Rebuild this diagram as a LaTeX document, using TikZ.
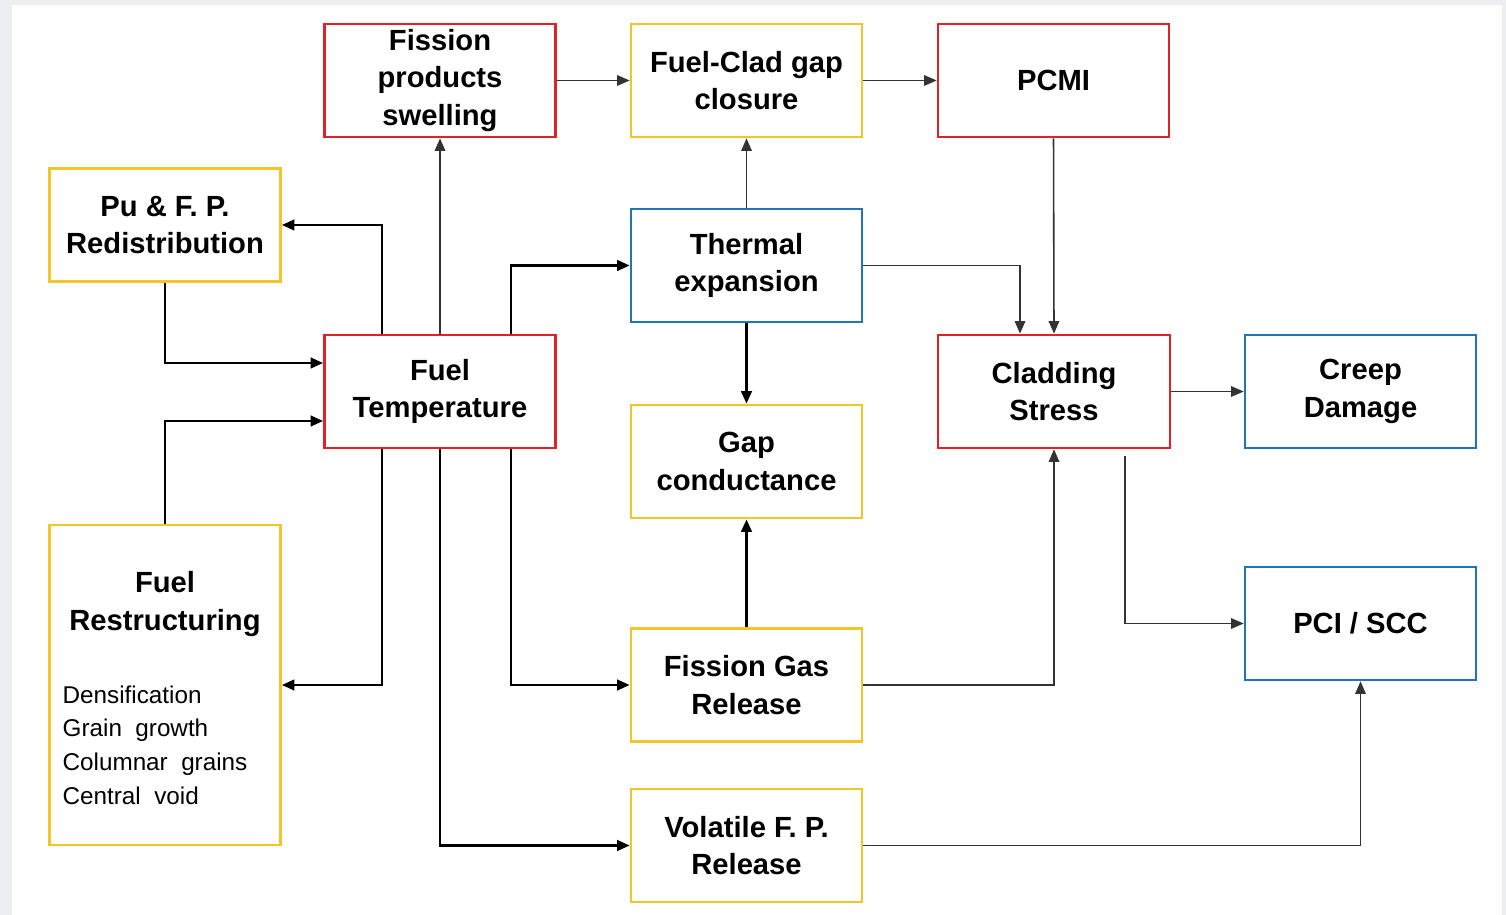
\documentclass[tikz,border=0pt]{standalone}
\usepackage{fontspec}
\setmainfont{Liberation Sans}
\usepackage{xcolor}
\usetikzlibrary{arrows.meta}
\definecolor{boxred}{RGB}{222,34,40}
\definecolor{boxgold}{RGB}{242,198,40}
\definecolor{boxblue}{RGB}{34,116,186}
\definecolor{pagegray}{RGB}{236,238,242}

\begin{document}
\begin{tikzpicture}[x=0.1mm,y=-0.1mm,
    box/.style={draw,line width=0.75pt,fill=white,minimum width=23.1mm,
        minimum height=11.3mm,align=center,inner sep=1pt,
        font=\fontsize{8.3}{10.6}\selectfont\bfseries},
    rbox/.style={box,draw=boxred},
    ybox/.style={box,draw=boxgold},
    bbox/.style={box,draw=boxblue},
    arr/.style={-{Triangle[length=3.6pt,width=3pt]},line width=0.8pt},
    tarr/.style={-{Triangle[length=3.6pt,width=3pt]},line width=0.45pt,black!80}]
    % Page
    \useasboundingbox (0,0) rectangle (1506,915);
    \fill[pagegray] (0,0) rectangle (1506,915);
    \fill[white] (12,5) rectangle (1502,915);

    % Boxes
    \node[rbox] (swell) at (440,80.5) {Fission\\products\\swelling};
    \node[ybox] (close) at (746.5,80.5) {Fuel-Clad gap\\closure};
    \node[rbox] (pcmi) at (1053.5,80.5) {PCMI};
    \node[ybox] (pu) at (165,225) {Pu \& F. P.\\Redistribution};
    \node[bbox] (therm) at (746.5,265.5) {Thermal\\expansion};
    \node[rbox] (temp) at (440,391.5) {Fuel\\Temperature};
    \node[rbox,minimum width=23.2mm] (clad) at (1054,391.5) {Cladding\\Stress};
    \node[bbox] (creep) at (1360.5,391.5) {Creep\\Damage};
    \node[ybox] (gapc) at (746.5,461.5) {Gap\\conductance};
    \node[ybox,minimum height=32mm] (rest) at (165,685) {};
    \node[bbox] (pci) at (1360.5,623.5) {PCI / SCC};
    \node[ybox] (fgr) at (746.5,685) {Fission Gas\\Release};
    \node[ybox] (vol) at (746.5,845.5) {Volatile F. P.\\Release};

    % Restructuring text
    \node[align=center,font=\fontsize{8.3}{10.6}\selectfont\bfseries] (restT) at (165,604) {Fuel\\Restructuring};
    \node[anchor=west,align=left,inner sep=0pt,font=\fontsize{6.9}{9.6}\selectfont] (restL) at (62,745)
        {Densification\\Grain\ \ growth\\Columnar\ \ grains\\Central\ \ void};

    % Arrows out of fuel temperature
    \draw[tarr] (temp.north) -- (swell.south);
    \draw[arr] ([xshift=-5.8mm]temp.north) |- (pu.east);
    \draw[arr] (pu.south) |- ([yshift=2.85mm]temp.west);
    \draw[arr] (rest.north) |- ([yshift=-2.95mm]temp.west);
    \draw[arr] ([xshift=-5.8mm]temp.south) |- (rest.east);
    \draw[arr] ([xshift=7.1mm]temp.north) |- (therm.west);
    \draw[arr] ([xshift=7.1mm]temp.south) |- (fgr.west);
    \draw[arr] (temp.south) |- (vol.west);

    % Middle column
    \draw[tarr] (swell.east) -- (close.west);
    \draw[tarr] (close.east) -- (pcmi.west);
    \draw[tarr] (therm.north) -- (close.south);
    \draw[arr] (therm.south) -- (gapc.north);
    \draw[arr] (fgr.north) -- (gapc.south);

    % Cladding
    \draw[tarr] (therm.east) -| ([xshift=-3.4mm]clad.north);
    \draw[tarr] (pcmi.south) -- (clad.north);
    \draw[tarr] (fgr.east) -| (clad.south);
    \draw[tarr] (clad.east) -- (creep.west);
    \draw[tarr] ([xshift=7.1mm,yshift=-0.7mm]clad.south) |- (pci.west);
    \draw[tarr] (vol.east) -| (pci.south);
\end{tikzpicture}
\end{document}
